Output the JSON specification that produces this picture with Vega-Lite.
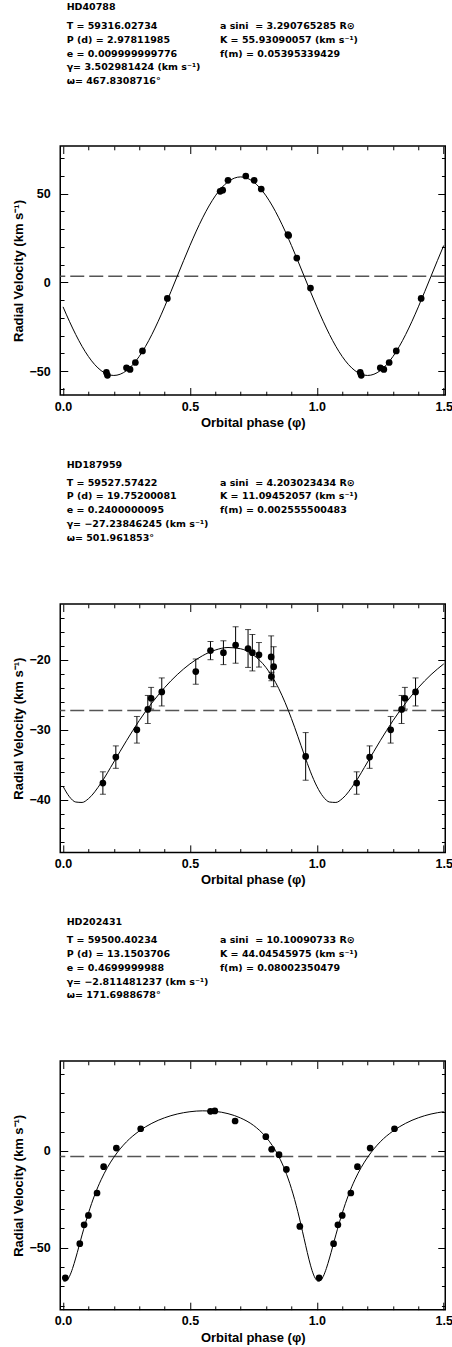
{
 "$schema": "https://vega.github.io/schema/vega-lite/v6.json",
 "padding": {"left": 11.25, "top": 0, "right": 2, "bottom": 2},
 "background": "white",
 "spacing": 0,
 "bounds": "flush",
 "datasets": {
  "hdr1": [
   {"col": 0, "line": 1, "text": "T = 59316.02734"},
   {"col": 0, "line": 2, "text": "P (d) = 2.97811985"},
   {"col": 0, "line": 3, "text": "e = 0.009999999776"},
   {"col": 0, "line": 4, "text": "γ= 3.502981424 (km s⁻¹)"},
   {"col": 0, "line": 5, "text": "ω= 467.8308716°"},
   {"col": 1, "line": 1, "text": "a sini\u00a0 = 3.290765285 R⊙"},
   {"col": 1, "line": 2, "text": "K = 55.93090057 (km s⁻¹)"},
   {"col": 1, "line": 3, "text": "f(m) = 0.05395339429"}
  ],
  "hdr2": [
   {"col": 0, "line": 1, "text": "T = 59527.57422"},
   {"col": 0, "line": 2, "text": "P (d) = 19.75200081"},
   {"col": 0, "line": 3, "text": "e = 0.2400000095"},
   {"col": 0, "line": 4, "text": "γ= −27.23846245 (km s⁻¹)"},
   {"col": 0, "line": 5, "text": "ω= 501.961853°"},
   {"col": 1, "line": 1, "text": "a sini\u00a0 = 4.203023434 R⊙"},
   {"col": 1, "line": 2, "text": "K = 11.09452057 (km s⁻¹)"},
   {"col": 1, "line": 3, "text": "f(m) = 0.002555500483"}
  ],
  "hdr3": [
   {"col": 0, "line": 1, "text": "T = 59500.40234"},
   {"col": 0, "line": 2, "text": "P (d) = 13.1503706"},
   {"col": 0, "line": 3, "text": "e = 0.4699999988"},
   {"col": 0, "line": 4, "text": "γ= −2.811481237 (km s⁻¹)"},
   {"col": 0, "line": 5, "text": "ω= 171.6988678°"},
   {"col": 1, "line": 1, "text": "a sini\u00a0 = 10.10090733 R⊙"},
   {"col": 1, "line": 2, "text": "K = 44.04545975 (km s⁻¹)"},
   {"col": 1, "line": 3, "text": "f(m) = 0.08002350479"}
  ],
  "curve1": [
   {"phase": 0, "v": -13.77}, {"phase": 0.025, "v": -21.88}, {"phase": 0.05, "v": -29.36}, {"phase": 0.075, "v": -36.03},
   {"phase": 0.1, "v": -41.72}, {"phase": 0.125, "v": -46.31}, {"phase": 0.15, "v": -49.67}, {"phase": 0.175, "v": -51.71},
   {"phase": 0.2, "v": -52.4}, {"phase": 0.225, "v": -51.71}, {"phase": 0.25, "v": -49.67}, {"phase": 0.275, "v": -46.31},
   {"phase": 0.3, "v": -41.72}, {"phase": 0.325, "v": -36.03}, {"phase": 0.35, "v": -29.36}, {"phase": 0.375, "v": -21.88},
   {"phase": 0.4, "v": -13.77}, {"phase": 0.425, "v": -5.24}, {"phase": 0.45, "v": 3.5}, {"phase": 0.475, "v": 12.24},
   {"phase": 0.5, "v": 20.77}, {"phase": 0.525, "v": 28.88}, {"phase": 0.55, "v": 36.36}, {"phase": 0.575, "v": 43.03},
   {"phase": 0.6, "v": 48.72}, {"phase": 0.625, "v": 53.31}, {"phase": 0.65, "v": 56.67}, {"phase": 0.675, "v": 58.71},
   {"phase": 0.7, "v": 59.4}, {"phase": 0.725, "v": 58.71}, {"phase": 0.75, "v": 56.67}, {"phase": 0.775, "v": 53.31},
   {"phase": 0.8, "v": 48.72}, {"phase": 0.825, "v": 43.03}, {"phase": 0.85, "v": 36.36}, {"phase": 0.875, "v": 28.88},
   {"phase": 0.9, "v": 20.77}, {"phase": 0.925, "v": 12.24}, {"phase": 0.95, "v": 3.5}, {"phase": 0.975, "v": -5.24},
   {"phase": 1.0, "v": -13.77}, {"phase": 1.025, "v": -21.88}, {"phase": 1.05, "v": -29.36}, {"phase": 1.075, "v": -36.03},
   {"phase": 1.1, "v": -41.72}, {"phase": 1.125, "v": -46.31}, {"phase": 1.15, "v": -49.67}, {"phase": 1.175, "v": -51.71},
   {"phase": 1.2, "v": -52.4}, {"phase": 1.225, "v": -51.71}, {"phase": 1.25, "v": -49.67}, {"phase": 1.275, "v": -46.31},
   {"phase": 1.3, "v": -41.72}, {"phase": 1.325, "v": -36.03}, {"phase": 1.35, "v": -29.36}, {"phase": 1.375, "v": -21.88},
   {"phase": 1.4, "v": -13.77}, {"phase": 1.425, "v": -5.24}, {"phase": 1.45, "v": 3.5}, {"phase": 1.475, "v": 12.24},
   {"phase": 1.5, "v": 20.77}
  ],
  "obs1": [
   {"phase": 0.171, "v": -50.7}, {"phase": 0.175, "v": -52.3}, {"phase": 0.25, "v": -48.1}, {"phase": 0.264, "v": -49.0},
   {"phase": 0.285, "v": -45.1}, {"phase": 0.313, "v": -38.6}, {"phase": 0.411, "v": -9.0}, {"phase": 0.619, "v": 51.3},
   {"phase": 0.629, "v": 51.9}, {"phase": 0.65, "v": 57.5}, {"phase": 0.72, "v": 59.9}, {"phase": 0.753, "v": 57.5},
   {"phase": 0.781, "v": 52.6}, {"phase": 0.886, "v": 26.9}, {"phase": 0.889, "v": 26.4}, {"phase": 0.921, "v": 13.7},
   {"phase": 0.975, "v": -3.2}, {"phase": 1.171, "v": -50.7}, {"phase": 1.175, "v": -52.3}, {"phase": 1.25, "v": -48.1},
   {"phase": 1.264, "v": -49.0}, {"phase": 1.285, "v": -45.1}, {"phase": 1.313, "v": -38.6}, {"phase": 1.411, "v": -9.0}
  ],
  "curve2": [
   {"phase": 0, "v": -38.07}, {"phase": 0.025, "v": -39.55}, {"phase": 0.05, "v": -40.31}, {"phase": 0.075, "v": -40.37},
   {"phase": 0.1, "v": -39.84}, {"phase": 0.15, "v": -37.58}, {"phase": 0.2, "v": -34.6}, {"phase": 0.25, "v": -31.56},
   {"phase": 0.3, "v": -28.7}, {"phase": 0.35, "v": -26.18}, {"phase": 0.4, "v": -23.99}, {"phase": 0.45, "v": -22.13},
   {"phase": 0.5, "v": -20.6}, {"phase": 0.55, "v": -19.42}, {"phase": 0.6, "v": -18.62}, {"phase": 0.65, "v": -18.26},
   {"phase": 0.7, "v": -18.44}, {"phase": 0.75, "v": -19.33}, {"phase": 0.8, "v": -21.13}, {"phase": 0.85, "v": -24.12},
   {"phase": 0.875, "v": -26.11}, {"phase": 0.9, "v": -28.4}, {"phase": 0.925, "v": -30.93}, {"phase": 0.95, "v": -33.53},
   {"phase": 0.975, "v": -36.0}, {"phase": 1.0, "v": -38.07}, {"phase": 1.025, "v": -39.55}, {"phase": 1.05, "v": -40.31},
   {"phase": 1.075, "v": -40.37}, {"phase": 1.1, "v": -39.84}, {"phase": 1.15, "v": -37.58}, {"phase": 1.2, "v": -34.6},
   {"phase": 1.25, "v": -31.56}, {"phase": 1.3, "v": -28.7}, {"phase": 1.35, "v": -26.18}, {"phase": 1.4, "v": -23.99},
   {"phase": 1.45, "v": -22.13}, {"phase": 1.5, "v": -20.6}
  ],
  "obs2": [
   {"phase": 0.157, "v": -37.6, "err": 1.6}, {"phase": 0.208, "v": -33.9, "err": 1.6}, {"phase": 0.291, "v": -30.0, "err": 1.9},
   {"phase": 0.334, "v": -27.1, "err": 2.0}, {"phase": 0.347, "v": -25.5, "err": 1.55}, {"phase": 0.389, "v": -24.6, "err": 2.0},
   {"phase": 0.523, "v": -21.7, "err": 1.8}, {"phase": 0.581, "v": -18.7, "err": 1.3}, {"phase": 0.632, "v": -19.0, "err": 1.7},
   {"phase": 0.68, "v": -17.9, "err": 2.6}, {"phase": 0.729, "v": -18.4, "err": 2.7}, {"phase": 0.746, "v": -19.0, "err": 2.6},
   {"phase": 0.772, "v": -19.3, "err": 1.75}, {"phase": 0.82, "v": -19.6, "err": 3.0}, {"phase": 0.821, "v": -22.4, "err": 0.6},
   {"phase": 0.83, "v": -21.0, "err": 2.85}, {"phase": 0.956, "v": -33.8, "err": 3.4}, {"phase": 1.157, "v": -37.6, "err": 1.6},
   {"phase": 1.208, "v": -33.9, "err": 1.6}, {"phase": 1.291, "v": -30.0, "err": 1.9}, {"phase": 1.334, "v": -27.1, "err": 2.0},
   {"phase": 1.347, "v": -25.5, "err": 1.55}, {"phase": 1.389, "v": -24.6, "err": 2.0}
  ],
  "curve3": [
   {"phase": 0, "v": -66.89}, {"phase": 0.00625, "v": -67.34}, {"phase": 0.0125, "v": -67.13}, {"phase": 0.025, "v": -64.87},
   {"phase": 0.0375, "v": -60.69}, {"phase": 0.05, "v": -55.31}, {"phase": 0.075, "v": -43.34}, {"phase": 0.1, "v": -32.14},
   {"phase": 0.125, "v": -22.63}, {"phase": 0.15, "v": -14.85}, {"phase": 0.175, "v": -8.48}, {"phase": 0.2, "v": -3.26},
   {"phase": 0.225, "v": 1.09}, {"phase": 0.25, "v": 4.75}, {"phase": 0.3, "v": 10.3}, {"phase": 0.35, "v": 14.31},
   {"phase": 0.4, "v": 17.16}, {"phase": 0.45, "v": 19.11}, {"phase": 0.5, "v": 20.29}, {"phase": 0.55, "v": 20.75},
   {"phase": 0.6, "v": 20.45}, {"phase": 0.65, "v": 19.3}, {"phase": 0.7, "v": 17.03}, {"phase": 0.75, "v": 13.28},
   {"phase": 0.775, "v": 10.56}, {"phase": 0.8, "v": 7.11}, {"phase": 0.825, "v": 2.75}, {"phase": 0.85, "v": -2.85},
   {"phase": 0.875, "v": -10.07}, {"phase": 0.9, "v": -19.44}, {"phase": 0.925, "v": -31.29}, {"phase": 0.95, "v": -45.32},
   {"phase": 0.9625, "v": -52.47}, {"phase": 0.975, "v": -58.99}, {"phase": 0.9875, "v": -64.04}, {"phase": 1.0, "v": -66.89},
   {"phase": 1.00625, "v": -67.34}, {"phase": 1.0125, "v": -67.13}, {"phase": 1.025, "v": -64.87}, {"phase": 1.0375, "v": -60.69},
   {"phase": 1.05, "v": -55.31}, {"phase": 1.075, "v": -43.34}, {"phase": 1.1, "v": -32.14}, {"phase": 1.125, "v": -22.63},
   {"phase": 1.15, "v": -14.85}, {"phase": 1.175, "v": -8.48}, {"phase": 1.2, "v": -3.26}, {"phase": 1.225, "v": 1.09},
   {"phase": 1.25, "v": 4.75}, {"phase": 1.3, "v": 10.3}, {"phase": 1.35, "v": 14.31}, {"phase": 1.4, "v": 17.16},
   {"phase": 1.45, "v": 19.11}, {"phase": 1.5, "v": 20.29}
  ],
  "obs3": [
   {"phase": 0.009, "v": -65.5}, {"phase": 0.066, "v": -47.9}, {"phase": 0.083, "v": -38.1}, {"phase": 0.1, "v": -33.3},
   {"phase": 0.134, "v": -21.7}, {"phase": 0.16, "v": -8.1}, {"phase": 0.21, "v": 1.5}, {"phase": 0.306, "v": 11.5},
   {"phase": 0.581, "v": 20.5}, {"phase": 0.598, "v": 20.7}, {"phase": 0.678, "v": 15.5}, {"phase": 0.799, "v": 7.4},
   {"phase": 0.822, "v": 0.9}, {"phase": 0.851, "v": -1.9}, {"phase": 0.88, "v": -9.5}, {"phase": 0.933, "v": -39.0},
   {"phase": 1.009, "v": -65.5}, {"phase": 1.066, "v": -47.9}, {"phase": 1.083, "v": -38.1}, {"phase": 1.1, "v": -33.3},
   {"phase": 1.134, "v": -21.7}, {"phase": 1.16, "v": -8.1}, {"phase": 1.21, "v": 1.5}, {"phase": 1.306, "v": 11.5}
  ]
 },
 "vconcat": [
  {
   "width": 385, "height": 145.7, "view": {"stroke": null},
   "layer": [
    {"data": {"name": "hdr1"},
     "mark": {"type": "text", "align": "left", "baseline": "middle", "font": "DejaVu Sans", "fontSize": 9.5, "fontWeight": "bold", "color": "black"},
     "encoding": {
      "x": {"field": "col", "type": "ordinal", "scale": {"type": "point", "domain": [0, 1], "range": [6.4, 159.7], "padding": 0}, "axis": null},
      "y": {"field": "line", "type": "ordinal", "scale": {"type": "point", "domain": [1, 2, 3, 4, 5], "range": [25.8, 81.2], "padding": 0}, "axis": null},
      "text": {"field": "text"}}},
    {"data": {"values": [{"star": "HD40788"}]},
     "mark": {"type": "text", "align": "left", "baseline": "middle", "font": "DejaVu Sans", "fontSize": 9.5, "fontWeight": "bold", "color": "black", "dy": -18.8},
     "encoding": {
      "x": {"datum": 0, "type": "ordinal"},
      "y": {"datum": 1, "type": "ordinal"},
      "text": {"field": "star"}}}
   ]
  },
  {
   "width": 385, "height": 249,
   "resolve": {"axis": {"x": "independent", "y": "independent"}},
   "layer": [
    {"data": {"values": [{"gamma": 3.502981424}]},
     "mark": {"type": "rule", "color": "#555555", "strokeWidth": 1.4, "strokeDash": [14, 5]},
     "encoding": {"y": {"field": "gamma", "type": "quantitative", "scale": {"domain": [-63.4, 76.8], "nice": false, "zero": false}, "axis": null}}},
    {"data": {"name": "curve1"},
     "mark": {"type": "line", "color": "black", "strokeWidth": 1, "interpolate": "monotone"},
     "encoding": {
      "x": {"field": "phase", "type": "quantitative", "scale": {"domain": [-0.011, 1.506], "nice": false, "zero": false},
            "axis": {"orient": "bottom", "values": [0, 0.1, 0.2, 0.3, 0.4, 0.5, 0.6, 0.7, 0.8, 0.9, 1, 1.1, 1.2, 1.3, 1.4, 1.5],
                     "tickDash": {"condition": {"test": "abs(datum.value*2-round(datum.value*2))>0.001", "value": [3.8, 30]}, "value": [30, 0]},
                     "labelExpr": "abs(datum.value*2-round(datum.value*2))<0.001 ? format(datum.value,'.1f') : ''",
                     "title": "Orbital phase (φ)", "titleX": 192.5, "titleY": 27.5, "titleBaseline": "middle", "titleAlign": "center"}},
      "y": {"field": "v", "type": "quantitative", "scale": {"domain": [-63.4, 76.8], "nice": false, "zero": false},
            "axis": {"orient": "left", "values": [-60, -50, -40, -30, -20, -10, 0, 10, 20, 30, 40, 50, 60, 70],
                     "tickDash": {"condition": {"test": "abs(datum.value/50-round(datum.value/50))>0.001", "value": [3.8, 30]}, "value": [30, 0]},
                     "labelExpr": "abs(datum.value/50-round(datum.value/50))<0.001 ? format(datum.value,'d') : ''",
                     "title": "Radial Velocity (km s⁻¹)", "titleX": -41.3, "titleY": 124.5, "titleAngle": -90, "titleBaseline": "middle", "titleAlign": "center"}}}},
    {"data": {"name": "obs1"},
     "mark": {"type": "circle", "color": "black", "opacity": 1, "size": 45},
     "encoding": {
      "x": {"field": "phase", "type": "quantitative", "scale": {"domain": [-0.011, 1.506], "nice": false, "zero": false},
            "axis": {"orient": "top", "values": [0, 0.1, 0.2, 0.3, 0.4, 0.5, 0.6, 0.7, 0.8, 0.9, 1, 1.1, 1.2, 1.3, 1.4, 1.5],
                     "tickDash": {"condition": {"test": "abs(datum.value*2-round(datum.value*2))>0.001", "value": [3.8, 30]}, "value": [30, 0]},
                     "labels": false, "title": null}},
      "y": {"field": "v", "type": "quantitative", "scale": {"domain": [-63.4, 76.8], "nice": false, "zero": false},
            "axis": {"orient": "right", "values": [-60, -50, -40, -30, -20, -10, 0, 10, 20, 30, 40, 50, 60, 70],
                     "tickDash": {"condition": {"test": "abs(datum.value/50-round(datum.value/50))>0.001", "value": [3.8, 30]}, "value": [30, 0]},
                     "labels": false, "title": null}}}}
   ]
  },
  {
   "width": 385, "height": 208.6, "view": {"stroke": null},
   "layer": [
    {"data": {"name": "hdr2"},
     "mark": {"type": "text", "align": "left", "baseline": "middle", "font": "DejaVu Sans", "fontSize": 9.5, "fontWeight": "bold", "color": "black"},
     "encoding": {
      "x": {"field": "col", "type": "ordinal", "scale": {"type": "point", "domain": [0, 1], "range": [6.4, 159.7], "padding": 0}, "axis": null},
      "y": {"field": "line", "type": "ordinal", "scale": {"type": "point", "domain": [1, 2, 3, 4, 5], "range": [87.6, 143.0], "padding": 0}, "axis": null},
      "text": {"field": "text"}}},
    {"data": {"values": [{"star": "HD187959"}]},
     "mark": {"type": "text", "align": "left", "baseline": "middle", "font": "DejaVu Sans", "fontSize": 9.5, "fontWeight": "bold", "color": "black", "dy": -18},
     "encoding": {
      "x": {"datum": 0, "type": "ordinal"},
      "y": {"datum": 1, "type": "ordinal"},
      "text": {"field": "star"}}}
   ]
  },
  {
   "width": 385, "height": 248.4,
   "resolve": {"axis": {"x": "independent", "y": "independent"}},
   "layer": [
    {"data": {"values": [{"gamma": -27.23846245}]},
     "mark": {"type": "rule", "color": "#555555", "strokeWidth": 1.4, "strokeDash": [14, 5]},
     "encoding": {"y": {"field": "gamma", "type": "quantitative", "scale": {"domain": [-47.5, -12.05], "nice": false, "zero": false}, "axis": null}}},
    {"data": {"name": "curve2"},
     "mark": {"type": "line", "color": "black", "strokeWidth": 1, "interpolate": "monotone"},
     "encoding": {
      "x": {"field": "phase", "type": "quantitative", "scale": {"domain": [-0.011, 1.506], "nice": false, "zero": false},
            "axis": {"orient": "bottom", "values": [0, 0.1, 0.2, 0.3, 0.4, 0.5, 0.6, 0.7, 0.8, 0.9, 1, 1.1, 1.2, 1.3, 1.4, 1.5],
                     "tickDash": {"condition": {"test": "abs(datum.value*2-round(datum.value*2))>0.001", "value": [3.8, 30]}, "value": [30, 0]},
                     "labelExpr": "abs(datum.value*2-round(datum.value*2))<0.001 ? format(datum.value,'.1f') : ''",
                     "title": "Orbital phase (φ)", "titleX": 192.5, "titleY": 27.5, "titleBaseline": "middle", "titleAlign": "center"}},
      "y": {"field": "v", "type": "quantitative", "scale": {"domain": [-47.5, -12.05], "nice": false, "zero": false},
            "axis": {"orient": "left", "values": [-46, -44, -42, -40, -38, -36, -34, -32, -30, -28, -26, -24, -22, -20, -18, -16, -14],
                     "tickDash": {"condition": {"test": "abs(datum.value/10-round(datum.value/10))>0.001", "value": [3.8, 30]}, "value": [30, 0]},
                     "labelExpr": "abs(datum.value/10-round(datum.value/10))<0.001 ? format(datum.value,'d') : ''",
                     "title": "Radial Velocity (km s⁻¹)", "titleX": -41.3, "titleY": 124.2, "titleAngle": -90, "titleBaseline": "middle", "titleAlign": "center"}}}},
    {"data": {"name": "obs2"},
     "mark": {"type": "errorbar", "color": "black", "ticks": {"size": 6, "color": "black"}, "rule": {"color": "black", "strokeWidth": 1}},
     "encoding": {
      "x": {"field": "phase", "type": "quantitative", "scale": {"domain": [-0.011, 1.506], "nice": false, "zero": false}, "axis": null},
      "y": {"field": "v", "type": "quantitative", "scale": {"domain": [-47.5, -12.05], "nice": false, "zero": false}, "axis": null},
      "yError": {"field": "err"}}},
    {"data": {"name": "obs2"},
     "mark": {"type": "circle", "color": "black", "opacity": 1, "size": 45},
     "encoding": {
      "x": {"field": "phase", "type": "quantitative", "scale": {"domain": [-0.011, 1.506], "nice": false, "zero": false},
            "axis": {"orient": "top", "values": [0, 0.1, 0.2, 0.3, 0.4, 0.5, 0.6, 0.7, 0.8, 0.9, 1, 1.1, 1.2, 1.3, 1.4, 1.5],
                     "tickDash": {"condition": {"test": "abs(datum.value*2-round(datum.value*2))>0.001", "value": [3.8, 30]}, "value": [30, 0]},
                     "labels": false, "title": null}},
      "y": {"field": "v", "type": "quantitative", "scale": {"domain": [-47.5, -12.05], "nice": false, "zero": false},
            "axis": {"orient": "right", "values": [-46, -44, -42, -40, -38, -36, -34, -32, -30, -28, -26, -24, -22, -20, -18, -16, -14],
                     "tickDash": {"condition": {"test": "abs(datum.value/10-round(datum.value/10))>0.001", "value": [3.8, 30]}, "value": [30, 0]},
                     "labels": false, "title": null}}}}
   ]
  },
  {
   "width": 385, "height": 207.3, "view": {"stroke": null},
   "layer": [
    {"data": {"name": "hdr3"},
     "mark": {"type": "text", "align": "left", "baseline": "middle", "font": "DejaVu Sans", "fontSize": 9.5, "fontWeight": "bold", "color": "black"},
     "encoding": {
      "x": {"field": "col", "type": "ordinal", "scale": {"type": "point", "domain": [0, 1], "range": [6.4, 159.7], "padding": 0}, "axis": null},
      "y": {"field": "line", "type": "ordinal", "scale": {"type": "point", "domain": [1, 2, 3, 4, 5], "range": [87.0, 142.4], "padding": 0}, "axis": null},
      "text": {"field": "text"}}},
    {"data": {"values": [{"star": "HD202431"}]},
     "mark": {"type": "text", "align": "left", "baseline": "middle", "font": "DejaVu Sans", "fontSize": 9.5, "fontWeight": "bold", "color": "black", "dy": -17.7},
     "encoding": {
      "x": {"datum": 0, "type": "ordinal"},
      "y": {"datum": 1, "type": "ordinal"},
      "text": {"field": "star"}}}
   ]
  },
  {
   "width": 385, "height": 248.7,
   "resolve": {"axis": {"x": "independent", "y": "independent"}},
   "layer": [
    {"data": {"values": [{"gamma": -2.811481237}]},
     "mark": {"type": "rule", "color": "#555555", "strokeWidth": 1.4, "strokeDash": [14, 5]},
     "encoding": {"y": {"field": "gamma", "type": "quantitative", "scale": {"domain": [-82, 46.5], "nice": false, "zero": false}, "axis": null}}},
    {"data": {"name": "curve3"},
     "mark": {"type": "line", "color": "black", "strokeWidth": 1, "interpolate": "monotone"},
     "encoding": {
      "x": {"field": "phase", "type": "quantitative", "scale": {"domain": [-0.011, 1.506], "nice": false, "zero": false},
            "axis": {"orient": "bottom", "values": [0, 0.1, 0.2, 0.3, 0.4, 0.5, 0.6, 0.7, 0.8, 0.9, 1, 1.1, 1.2, 1.3, 1.4, 1.5],
                     "tickDash": {"condition": {"test": "abs(datum.value*2-round(datum.value*2))>0.001", "value": [3.8, 30]}, "value": [30, 0]},
                     "labelExpr": "abs(datum.value*2-round(datum.value*2))<0.001 ? format(datum.value,'.1f') : ''",
                     "title": "Orbital phase (φ)", "titleX": 192.5, "titleY": 27.5, "titleBaseline": "middle", "titleAlign": "center"}},
      "y": {"field": "v", "type": "quantitative", "scale": {"domain": [-82, 46.5], "nice": false, "zero": false},
            "axis": {"orient": "left", "values": [-80, -70, -60, -50, -40, -30, -20, -10, 0, 10, 20, 30, 40],
                     "tickDash": {"condition": {"test": "abs(datum.value/50-round(datum.value/50))>0.001", "value": [3.8, 30]}, "value": [30, 0]},
                     "labelExpr": "abs(datum.value/50-round(datum.value/50))<0.001 ? format(datum.value,'d') : ''",
                     "title": "Radial Velocity (km s⁻¹)", "titleX": -41.3, "titleY": 124.3, "titleAngle": -90, "titleBaseline": "middle", "titleAlign": "center"}}}},
    {"data": {"name": "obs3"},
     "mark": {"type": "circle", "color": "black", "opacity": 1, "size": 45},
     "encoding": {
      "x": {"field": "phase", "type": "quantitative", "scale": {"domain": [-0.011, 1.506], "nice": false, "zero": false},
            "axis": {"orient": "top", "values": [0, 0.1, 0.2, 0.3, 0.4, 0.5, 0.6, 0.7, 0.8, 0.9, 1, 1.1, 1.2, 1.3, 1.4, 1.5],
                     "tickDash": {"condition": {"test": "abs(datum.value*2-round(datum.value*2))>0.001", "value": [3.8, 30]}, "value": [30, 0]},
                     "labels": false, "title": null}},
      "y": {"field": "v", "type": "quantitative", "scale": {"domain": [-82, 46.5], "nice": false, "zero": false},
            "axis": {"orient": "right", "values": [-80, -70, -60, -50, -40, -30, -20, -10, 0, 10, 20, 30, 40],
                     "tickDash": {"condition": {"test": "abs(datum.value/50-round(datum.value/50))>0.001", "value": [3.8, 30]}, "value": [30, 0]},
                     "labels": false, "title": null}}}}
   ]
  }
 ],
 "config": {
  "font": "Liberation Sans",
  "view": {"stroke": "black", "strokeWidth": 1.5},
  "axis": {"domain": false, "grid": false, "tickColor": "black", "tickWidth": 1, "tickSize": -7.5,
           "labelFont": "Liberation Sans", "labelFontSize": 12.5, "labelFontWeight": "bold", "labelColor": "black",
           "labelOverlap": false, "labelFlush": false,
           "titleFont": "Liberation Sans", "titleFontSize": 13, "titleFontWeight": "bold", "titleColor": "black"},
  "axisBottom": {"labelPadding": 12.5},
  "axisLeft": {"labelPadding": 17.5},
  "text": {"font": "Liberation Sans"}
 }
}
